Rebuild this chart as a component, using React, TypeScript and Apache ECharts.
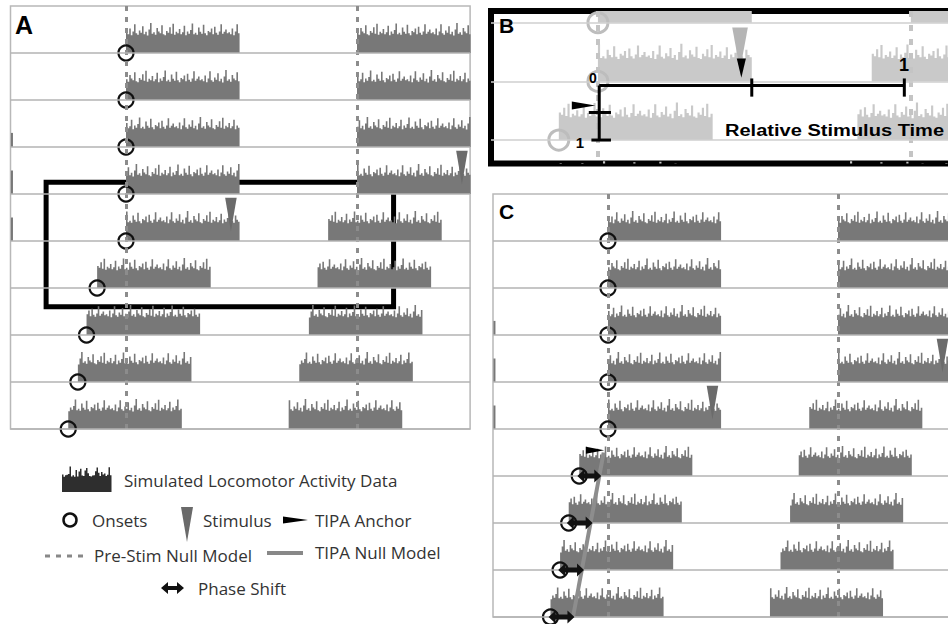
import React, { useEffect, useRef } from "react";
import * as echarts from "echarts";

// ---- data (hours relative to the pre-stimulus onset) ----
const dayOnsets = [0, 0, 0, 0, 0, -3.0, -4.1, -5.0, -6.0, -7.1];
const boutLength = 11.8;
const activityProfile = [
  0.44, 0.4, 0.52, 0.38, 0.46, 0.61, 0.42, 0.39, 0.48, 0.43, 0.57, 0.4, 0.45, 0.37, 0.5, 0.64,
  0.41, 0.44, 0.39, 0.53, 0.46, 0.42, 0.59, 0.4, 0.38, 0.47, 0.43, 0.55, 0.41, 0.62, 0.39, 0.45,
  0.42, 0.51, 0.4, 0.44, 0.58, 0.38, 0.46, 0.41, 0.49, 0.63, 0.4, 0.43, 0.39, 0.54, 0.45, 0.41,
  0.6, 0.42, 0.38, 0.47, 0.44, 0.52, 0.4, 0.56, 0.43, 0.39, 0.46, 0.61, 0.41, 0.45, 0.5, 0.42,
];
const rowOffsets = [0, 17, 33, 9, 41, 25, 52, 13, 37, 5];
const stimulusRows = [3, 4];
const stimulusHours = [34.9, 10.9];
const edgeRows = [2, 3, 4];
const edgeHeights = [0.3, 0.5, 0.5];
const nullModelHours = [0, 24];
const anchorRow = 5.45;
const anchorFrom = -2.3;
const anchorTo = -0.4;
const tipaNullLine = [
  [-0.45, 5.5],
  [-3.65, 9],
];
const shiftRows = [5, 6, 7, 8];
const shiftTo = [-0.7, -1.6, -2.5, -3.5];
const relAxis = { start: 0.1, mid: 11.8, end: 23.5, row: 5.07, bottom: 6.0, anchorTick: 5.53 };
const zoomBox = { t0: -8.3, v0: 3.75, t1: 27.8, v1: 6.4 };

const ROWS = 9;
const P = activityProfile.length;

function boutData() {
  const out: number[][] = [];
  for (let r = 0; r < ROWS; r++) {
    const a = dayOnsets[r];
    const b = 24 + dayOnsets[r + 1];
    out.push([r, a, a + boutLength, rowOffsets[r]]);
    out.push([r, b, b + boutLength, rowOffsets[r + 1]]);
  }
  return out;
}

function activityRender(color: string) {
  return (params: any, api: any) => {
    const row = api.value(0);
    const s = api.value(1);
    const e = api.value(2);
    const off = api.value(3);
    const base = row + 1;
    const n = Math.max(1, Math.round((e - s) * 6));
    const rowPx = api.size([0, 1])[1];
    const pts: number[][] = [];
    const p0 = api.coord([s, base]);
    pts.push([p0[0], p0[1]]);
    for (let k = 0; k < n; k++) {
      const t0 = s + ((e - s) * k) / n;
      const t1 = s + ((e - s) * (k + 1)) / n;
      const h = activityProfile[(k + off) % P] * rowPx;
      const a = api.coord([t0, base]);
      const b = api.coord([t1, base]);
      pts.push([a[0], a[1] - h], [b[0], b[1] - h]);
    }
    const p1 = api.coord([e, base]);
    pts.push([p1[0], p1[1]]);
    return { type: "polygon", shape: { points: pts }, style: { fill: color } };
  };
}

function edgeRender(color: string) {
  return (params: any, api: any) => {
    const row = api.value(0);
    const h = api.value(1);
    const rowPx = api.size([0, 1])[1];
    const p = api.coord([-11.9, row + 1]);
    return { type: "rect", shape: { x: p[0] - 0.5, y: p[1] - h * rowPx, width: 2, height: h * rowPx }, style: { fill: color } };
  };
}

function triRender(color: string, topOff: number, tipOff: number, halfW: number) {
  return (params: any, api: any) => {
    const t = api.value(0);
    const base = api.value(1) + 1;
    const a = api.coord([t - halfW, base - topOff]);
    const b = api.coord([t + halfW, base - topOff]);
    const c = api.coord([t, base - tipOff]);
    return { type: "polygon", shape: { points: [a, b, c] }, style: { fill: color } };
  };
}

function anchorRender(hh: number) {
  return (params: any, api: any) => {
    const v = api.value(0);
    const a = api.coord([api.value(1), v]);
    const b = api.coord([api.value(2), v]);
    return {
      type: "polygon",
      shape: { points: [[a[0], a[1] - hh], [b[0], b[1]], [a[0], a[1] + hh]] },
      style: { fill: "#000" },
    };
  };
}

function segRender(params: any, api: any) {
  const a = api.coord([api.value(0), api.value(1)]);
  const b = api.coord([api.value(2), api.value(3)]);
  return {
    type: "line",
    shape: { x1: a[0], y1: a[1], x2: b[0], y2: b[1] },
    style: { stroke: "#000", lineWidth: 3 },
  };
}

function arrowRender(params: any, api: any) {
  const base = api.value(0) + 1;
  const a = api.coord([api.value(1), base]);
  const b = api.coord([api.value(2), base]);
  const x0 = a[0];
  const x1 = b[0];
  const y = a[1];
  const hl = 7;
  const hh = 6.5;
  const bh = 2.5;
  return {
    type: "polygon",
    shape: {
      points: [
        [x0, y],
        [x0 + hl, y - hh],
        [x0 + hl, y - bh],
        [x1 - hl, y - bh],
        [x1 - hl, y - hh],
        [x1, y],
        [x1 - hl, y + hh],
        [x1 - hl, y + bh],
        [x0 + hl, y + bh],
        [x0 + hl, y + hh],
      ],
    },
    style: { fill: "#111" },
  };
}

type Pal = {
  bar: string;
  dash: string;
  dashW: number;
  dashType: number[];
  row: string;
  circle: string;
  circleSize: number;
  circleW: number;
  stim: string;
};

function panelSeries(g: number, pal: Pal, rowsShown: number[], withEdge: boolean, extraMark?: any) {
  const series: any[] = [];
  series.push({
    type: "custom",
    xAxisIndex: g,
    yAxisIndex: g,
    clip: true,
    renderItem: activityRender(pal.bar),
    data: boutData(),
    silent: true,
  });
  if (withEdge) {
    series.push({
      type: "custom",
      xAxisIndex: g,
      yAxisIndex: g,
      clip: true,
      renderItem: edgeRender(pal.bar),
      data: edgeRows.map((r, i) => [r, edgeHeights[i]]),
      silent: true,
    });
  }
  series.push({
    type: "custom",
    xAxisIndex: g,
    yAxisIndex: g,
    clip: true,
    renderItem: triRender(pal.stim, 0.92, 0.2, 0.6),
    data: stimulusRows.map((r, i) => [stimulusHours[i], r]),
    silent: true,
  });
  const markLineData: any[] = [];
  nullModelHours.forEach((h) =>
    markLineData.push({ xAxis: h, lineStyle: { color: pal.dash, width: pal.dashW, type: pal.dashType } })
  );
  rowsShown.forEach((v) => markLineData.push({ yAxis: v, lineStyle: { color: pal.row, width: 1.5, type: "solid" } }));
  const sc: any = {
    type: "scatter",
    xAxisIndex: g,
    yAxisIndex: g,
    symbol: "circle",
    symbolSize: pal.circleSize,
    itemStyle: { color: "rgba(0,0,0,0)", borderColor: pal.circle, borderWidth: pal.circleW, opacity: 1 },
    data: dayOnsets.slice(0, ROWS).map((t, r) => [t, r + 1]),
    silent: true,
    z: 3,
    markLine: { silent: true, symbol: ["none", "none"], label: { show: false }, data: markLineData },
  };
  if (extraMark) sc.markArea = extraMark;
  series.push(sc);
  return series;
}

export default function App() {
  const ref = useRef<HTMLDivElement>(null);
  useEffect(() => {
    document.body.style.margin = "0";
    if (!ref.current) return;
    const chart = echarts.init(ref.current, undefined, { renderer: "svg" });

    const darkPal: Pal = {
      bar: "#787878",
      dash: "#8c8c8c",
      dashW: 3,
      dashType: [5, 6],
      row: "#b3b3b3",
      circle: "#111",
      circleSize: 15,
      circleW: 2.2,
      stim: "#6b6b6b",
    };
    const lightPal: Pal = {
      bar: "#c9c9c9",
      dash: "#c4c4c4",
      dashW: 4,
      dashType: [6, 8],
      row: "#cfcfcf",
      circle: "#bdbdbd",
      circleSize: 20,
      circleW: 3,
      stim: "#b5b5b5",
    };
    const allRows = [1, 2, 3, 4, 5, 6, 7, 8, 9];

    const axisX = (min: number, max: number, gi: number) => ({
      type: "value",
      gridIndex: gi,
      min,
      max,
      show: false,
    });
    const axisY = (min: number, max: number, gi: number) => ({
      type: "value",
      gridIndex: gi,
      min,
      max,
      inverse: true,
      show: false,
    });

    const seriesA = panelSeries(0, darkPal, allRows, true, {
      silent: true,
      itemStyle: { color: "rgba(0,0,0,0)", borderColor: "#000", borderWidth: 5 },
      data: [[{ coord: [zoomBox.t0, zoomBox.v0] }, { coord: [zoomBox.t1, zoomBox.v1] }]],
    });
    const seriesB = panelSeries(1, lightPal, [4, 5, 6], false);
    seriesB.push({
      type: "custom",
      xAxisIndex: 1,
      yAxisIndex: 1,
      renderItem: segRender,
      silent: true,
      z: 5,
      data: [
        [relAxis.start, relAxis.row, relAxis.end, relAxis.row],
        [relAxis.mid, relAxis.row - 0.12, relAxis.mid, relAxis.row + 0.19],
        [relAxis.end, relAxis.row - 0.12, relAxis.end, relAxis.row + 0.19],
        [relAxis.start, relAxis.row, relAxis.start, relAxis.bottom],
        [-0.7, relAxis.anchorTick, 1.0, relAxis.anchorTick],
        [-0.5, relAxis.bottom, 1.0, relAxis.bottom],
      ],
    });
    seriesB.push({
      type: "custom",
      xAxisIndex: 1,
      yAxisIndex: 1,
      renderItem: triRender("#000", 0.39, 0.06, 0.35),
      silent: true,
      z: 5,
      data: [[stimulusHours[1] + 0.1, stimulusRows[1]]],
    });
    seriesB.push({
      type: "custom",
      xAxisIndex: 1,
      yAxisIndex: 1,
      renderItem: anchorRender(4),
      silent: true,
      z: 5,
      data: [[anchorRow - 0.04, anchorFrom + 0.3, anchorTo + 0.2]],
    });

    const seriesC = panelSeries(2, darkPal, allRows, true);
    seriesC.push({
      type: "line",
      xAxisIndex: 2,
      yAxisIndex: 2,
      data: tipaNullLine,
      symbol: "none",
      lineStyle: { color: "#8d8d8d", width: 4 },
      silent: true,
      z: 4,
    });
    seriesC.push({
      type: "custom",
      xAxisIndex: 2,
      yAxisIndex: 2,
      renderItem: anchorRender(3.5),
      silent: true,
      z: 5,
      data: [[anchorRow, anchorFrom, anchorTo]],
    });
    seriesC.push({
      type: "custom",
      xAxisIndex: 2,
      yAxisIndex: 2,
      renderItem: arrowRender,
      silent: true,
      z: 6,
      data: shiftRows.map((r, i) => [r, dayOnsets[r] - 0.2, shiftTo[i]]),
    });

    // legend icon polygon from the activity profile
    const iconPts: number[][] = [[62, 492]];
    for (let k = 0; k < 33; k++) {
      const h = activityProfile[(k * 3) % P] * 40;
      iconPts.push([62 + k * 1.5, 492 - h], [62 + (k + 1) * 1.5, 492 - h]);
    }
    iconPts.push([111.5, 492]);

    const legendFont = { fontFamily: "'Open Sans', sans-serif", fontSize: 17, fill: "#333" };
    const lt = (text: string, x: number, y: number) => ({
      type: "text",
      x,
      y,
      silent: true,
      style: { text, ...legendFont, align: "left", verticalAlign: "middle" },
    });
    const boldT = (text: string, x: number, y: number, size: number, align = "left", va = "top") => ({
      type: "text",
      x,
      y,
      silent: true,
      z: 100,
      style: { text, fontFamily: "Arial, 'Liberation Sans', sans-serif", fontWeight: "bold", fontSize: size, fill: "#000", align, verticalAlign: va },
    });

    const gridBase = { show: true, backgroundColor: "transparent", outerBoundsMode: "none", containLabel: false };
    const option: any = {
      animation: false,
      grid: [
        { ...gridBase, left: 10.5, top: 6, width: 459.6, height: 423, borderColor: "#b8b8b8", borderWidth: 1.5 },
        { ...gridBase, left: 491, top: 11, width: 472, height: 152.5, borderColor: "#000", borderWidth: 6 },
        { ...gridBase, left: 493, top: 194, width: 460, height: 423, borderColor: "#b8b8b8", borderWidth: 1.5 },
      ],
      xAxis: [axisX(-12, 35.75, 0), axisX(-8.2, 28, 1), axisX(-12, 36, 2)],
      yAxis: [axisY(0, 9, 0), axisY(3.8, 6.4, 1), axisY(0, 9, 2)],
      series: [...seriesA, ...seriesB, ...seriesC],
      graphic: [
        boldT("A", 15, 12, 25),
        boldT("B", 499, 15, 21),
        boldT("C", 499, 201, 21),
        boldT("0", 593, 78, 14, "center", "middle"),
        boldT("1", 904, 65, 18, "center", "middle"),
        boldT("1", 580, 142, 15, "center", "middle"),
        {
          type: "text",
          x: 725,
          y: 130,
          scaleX: 1.18,
          silent: true,
          z: 100,
          style: {
            text: "Relative Stimulus Time",
            fontFamily: "Arial, 'Liberation Sans', sans-serif",
            fontWeight: "bold",
            fontSize: 17,
            fill: "#000",
            align: "left",
            verticalAlign: "middle",
          },
        },
        // legend
        { type: "polygon", silent: true, shape: { points: iconPts }, style: { fill: "#2e2e2e" } },
        lt("Simulated Locomotor Activity Data", 124, 480),
        { type: "circle", silent: true, shape: { cx: 70, cy: 520, r: 6.5 }, style: { fill: "none", stroke: "#111", lineWidth: 2.5 } },
        lt("Onsets", 92, 520),
        { type: "polygon", silent: true, shape: { points: [[181, 507], [193, 507], [187, 542]] }, style: { fill: "#6a6a6a" } },
        lt("Stimulus", 203, 520),
        { type: "polygon", silent: true, shape: { points: [[283, 516.5], [308, 520], [283, 523.5]] }, style: { fill: "#000" } },
        lt("TIPA Anchor", 315, 520),
        { type: "line", silent: true, shape: { x1: 45, y1: 556, x2: 83, y2: 556 }, style: { stroke: "#888", lineWidth: 3, lineDash: [5, 6] } },
        lt("Pre-Stim Null Model", 94, 555),
        { type: "line", silent: true, shape: { x1: 267, y1: 553, x2: 303, y2: 553 }, style: { stroke: "#888", lineWidth: 4 } },
        lt("TIPA Null Model", 315, 552),
        {
          type: "polygon",
          silent: true,
          shape: {
            points: [
              [161, 588], [168, 582], [168, 586], [177, 586], [177, 582],
              [184, 588], [177, 594], [177, 590], [168, 590], [168, 594],
            ],
          },
          style: { fill: "#111" },
        },
        lt("Phase Shift", 198, 588),
      ],
    };
    chart.setOption(option);
    return () => chart.dispose();
  }, []);
  return <div ref={ref} style={{ width: 948, height: 624 }} />;
}
